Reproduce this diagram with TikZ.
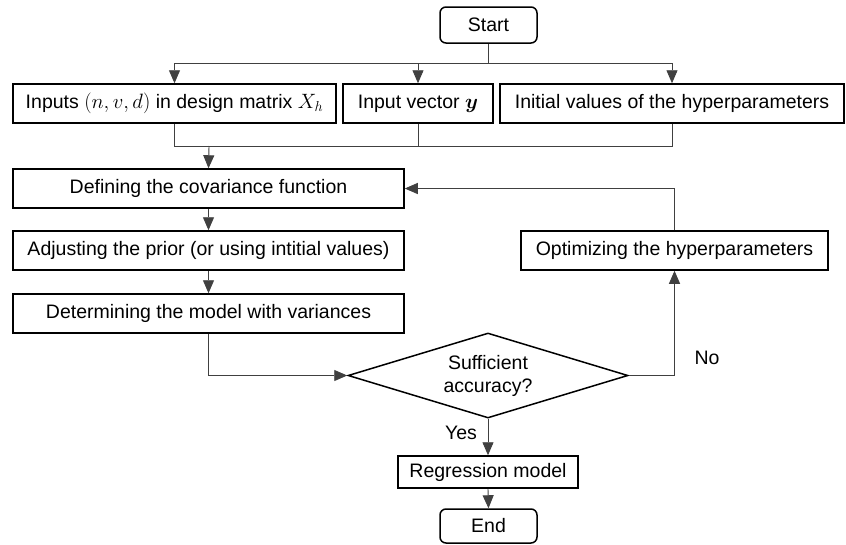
\documentclass[tikz,border=0pt]{standalone}
\usepackage{amsmath}
\usepackage{fontspec}
\setmainfont{Liberation Sans}
\usetikzlibrary{shapes.geometric,arrows.meta}
\begin{document}
\begin{tikzpicture}[x=1pt,y=-1pt,
  font=\fontsize{19.5}{23}\selectfont,
  box/.style={draw=black,line width=1.5pt,rectangle,inner sep=0pt,anchor=center},
  term/.style={box,rounded corners=6pt},
  dec/.style={draw=black,line width=1.5pt,diamond,shape aspect=3.3,inner sep=0pt,minimum width=280pt,minimum height=85pt,align=center},
  conn/.style={draw=black!75,line width=0.9pt},
  arr/.style={conn,-{Triangle[length=13pt,width=11pt]}},
  lab/.style={inner sep=0pt}]
\useasboundingbox (0,0) rectangle (846,544);
\node[term,minimum width=97pt,minimum height=36pt] (start) at (488.5,25) {Start};
\node[box,minimum width=323pt,minimum height=39pt] (in1) at (174.5,103.5) {Inputs $(n,v,d)$ in design matrix $X_h$};
\node[box,minimum width=150pt,minimum height=39pt] (in2) at (418,103.5) {Input vector $\boldsymbol{y}$};
\node[box,minimum width=344pt,minimum height=39pt] (in3) at (672,103.5) {Initial values of the hyperparameters};
\node[box,minimum width=391pt,minimum height=39pt] (def) at (208.5,188.5) {Defining the covariance function};
\node[box,minimum width=391pt,minimum height=39pt] (adj) at (208.5,250.5) {Adjusting the prior (or using intitial values)};
\node[box,minimum width=391pt,minimum height=39pt] (det) at (208.5,313.5) {Determining the model with variances};
\node[box,minimum width=307pt,minimum height=39pt] (opt) at (674.5,250.5) {Optimizing the hyperparameters};
\node[dec] (acc) at (488,375.5) {Sufficient\\accuracy?};
\node[box,minimum width=180pt,minimum height=32pt] (reg) at (488,472) {Regression model};
\node[term,minimum width=97pt,minimum height=34pt] (end) at (488.5,526) {End};
\node[lab] (yes) at (461,433) {Yes};
\node[lab] (no) at (707,358) {No};
\coordinate (top) at (488.5,63);
\coordinate (bot) at (209,146);
% top distribution
\draw[conn] (start.south) -- (top);
\draw[conn] (in1.north |- top) -- (in3.north |- top);
\draw[arr] (in1.north |- top) -- (in1.north);
\draw[arr] (in2.north |- top) -- (in2.north);
\draw[arr] (in3.north |- top) -- (in3.north);
% gathering
\draw[conn] (in1.south) -- (in1.south |- bot) -- (in3.south |- bot) -- (in3.south);
\draw[conn] (in2.south) -- (in2.south |- bot);
\draw[arr] (bot) -- (def.north);
\draw[arr] (def.south) -- (adj.north);
\draw[arr] (adj.south) -- (det.north);
\draw[arr] (det.south) |- (acc.west);
\draw[arr] (acc.east) -| (opt.south);
\draw[arr] (opt.north) |- (def.east);
\draw[arr] (acc.south) -- (reg.north);
\draw[arr] (reg.south) -- (end.north);
\end{tikzpicture}
\end{document}
